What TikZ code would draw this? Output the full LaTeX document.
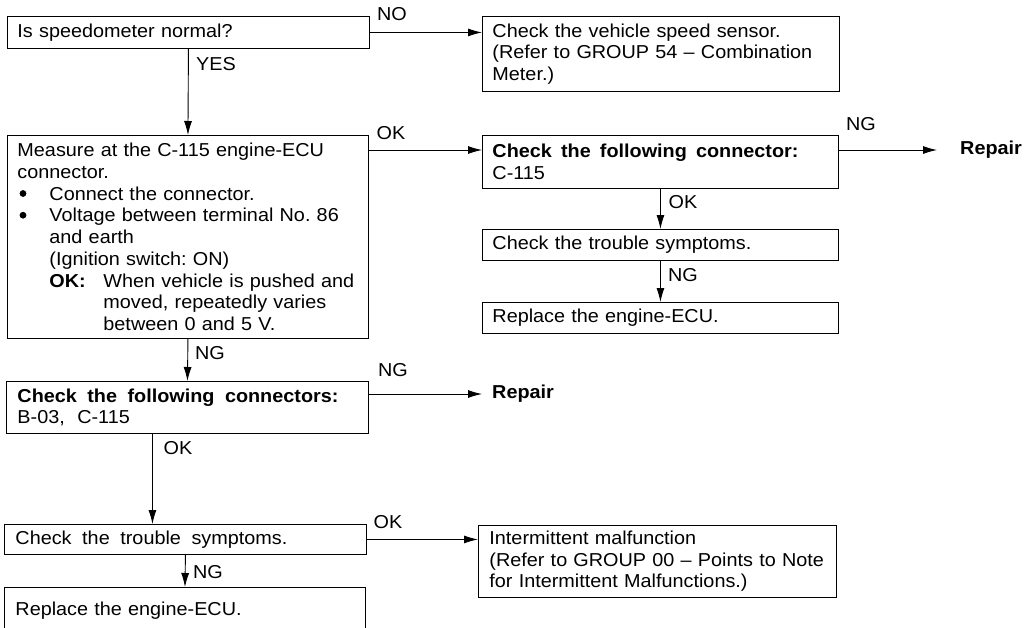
\documentclass[tikz,border=0pt]{standalone}
\usepackage{fontspec}
\setmainfont{Liberation Sans}[FakeStretch=1.06]
\usetikzlibrary{arrows.meta}
\begin{document}
\frenchspacing
\begin{tikzpicture}[x=1pt,y=-1pt,
  txt/.style={font={\fontsize{18.7}{21.7}\selectfont\frenchspacing}},
  box/.style={txt,draw,line width=0.9pt,anchor=north west,inner xsep=10pt,inner ysep=0pt,align=left},
  lbl/.style={txt,inner sep=0pt,anchor=center},
  rep/.style={anchor=west,inner sep=0pt,font={\fontsize{18.7}{21.7}\selectfont\bfseries}},
  arr/.style={line width=0.9pt,-{Latex[length=14pt,width=8pt]}}]
\useasboundingbox (0,0) rectangle (1026,627);
\clip (0,0) rectangle (1026,627);
% boxes
\node[box,text width=342pt,minimum width=362pt,minimum height=32pt] (A) at (7,16) {Is speedometer normal?};
\node[box,text width=337pt,minimum width=357pt,minimum height=75pt] (B) at (482,16) {Check the vehicle speed sensor.\\(Refer to GROUP 54 -- Combination\\Meter.)};
\node[box,text width=341pt,minimum width=361pt,minimum height=203pt] (C) at (7,135) {Measure at the C-115 engine-ECU\\
connector.\\
\hspace*{32pt}Connect the connector.\\
\hspace*{32pt}Voltage between terminal No. 86\\
\hspace*{32pt}and earth\\
\hspace*{32pt}(Ignition switch: ON)\\
\hspace*{32pt}\makebox[54pt][l]{\textbf{OK:}}When vehicle is pushed and\\
\hspace*{86pt}moved, repeatedly varies\\
\hspace*{86pt}between 0 and 5 V.};
\fill (23,193.5) circle (3.4);
\fill (23,215.2) circle (3.4);
\node[box,text width=336pt,minimum width=356pt,minimum height=53pt] (D) at (482,135) {\makebox[306pt][s]{\textbf{Check\hfill the\hfill following\hfill connector:}}\\C-115};
\node[box,text width=336pt,minimum width=356pt,minimum height=31pt] (E) at (482,229) {Check the trouble symptoms.};
\node[box,text width=336pt,minimum width=356pt,minimum height=31pt] (F) at (482,302) {Replace the engine-ECU.};
\node[box,inner xsep=11pt,text width=340pt,minimum width=362pt,minimum height=52pt] (G) at (6,381) {\makebox[321pt][s]{\textbf{Check\hfill the\hfill following\hfill connectors:}}\\B-03,\ \ C-115};
\node[box,inner xsep=11pt,text width=340pt,minimum width=362pt,minimum height=30pt] (H) at (4,524) {\makebox[272pt][s]{Check\hfill the\hfill trouble\hfill symptoms.}};
\node[box,inner xsep=6pt,text width=346pt,minimum width=358pt,minimum height=72pt] (I) at (478,525) {\hspace*{5pt}Intermittent malfunction\\\hspace*{5pt}(Refer to GROUP 00 -- Points to Note\\\hspace*{5pt}for Intermittent Malfunctions.)};
\node[box,inner xsep=11pt,text width=339pt,minimum width=361pt,minimum height=46pt] (J) at (4,587) {Replace the engine-ECU.};
% repair texts
\node[rep] (R1) at (960,150) {Repair};
\node[rep] (R2) at (492,394) {Repair};
% connectors
\draw[arr] (A.east) -- (A.east -| B.west);
\draw[arr] (A.south) -- (C.north);
\draw[arr] ([yshift=-15pt]C.north east) -- ([yshift=-15pt]D.north west);
\draw[arr,shorten >=23pt] ([yshift=-15pt]D.north east) -- (R1.west);
\draw[arr] (D.south) -- (E.north);
\draw[arr] (E.south) -- (F.north);
\draw[arr] (C.south) -- (G.north);
\draw[arr,shorten >=10pt] ([yshift=-13pt]G.north east) -- (R2.west);
\draw[arr] ([xshift=-35pt]G.south) -- ([xshift=-35pt]G.south |- H.north);
\draw[arr] (H.east) -- (H.east -| I.west);
\draw[arr] (H.south) -- (J.north);
% labels
\node[lbl] (lNO) at (392,14) {NO};
\node[lbl] (lYES) at (216,64) {YES};
\node[lbl] (lOK1) at (391,133) {OK};
\node[lbl] (lNG1) at (861,124) {NG};
\node[lbl] (lOK2) at (683,202) {OK};
\node[lbl] (lNG2) at (683,275) {NG};
\node[lbl] (lNG3) at (210,353) {NG};
\node[lbl] (lNG4) at (393,370) {NG};
\node[lbl] (lOK3) at (178,448) {OK};
\node[lbl] (lOK4) at (388,522) {OK};
\node[lbl] (lNG5) at (208,572) {NG};
\end{tikzpicture}
\end{document}
